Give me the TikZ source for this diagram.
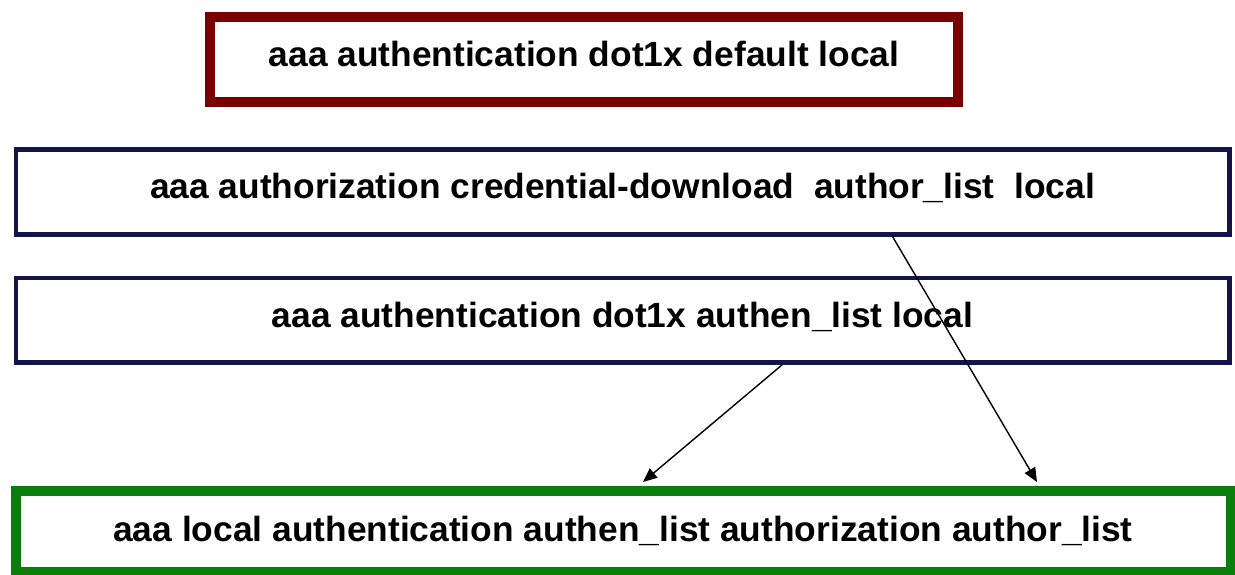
\documentclass[tikz,border=0pt]{standalone}
\usepackage{fontspec}
\setmainfont{Liberation Sans}[FakeStretch=1.01]
\usetikzlibrary{arrows.meta}
\definecolor{boxred}{HTML}{7A0000}
\definecolor{boxblue}{HTML}{14144B}
\definecolor{boxgreen}{HTML}{0B7D0B}
\tikzset{
  cmdbox/.style={draw, fill=white, inner sep=0pt, align=center,
    font=\fontsize{35}{40}\selectfont\bfseries, text height=22pt, text depth=8pt},
  link/.style={draw=black, line width=1.4pt, -{Triangle[length=14pt,width=12pt]}}
}
\begin{document}
\begin{tikzpicture}[x=1pt,y=-1pt]
\useasboundingbox (0,0) rectangle (1235,575);
\node[cmdbox, draw=boxred, line width=10pt, minimum width=748pt, minimum height=85pt] (r) at (584,59.5) {aaa authentication dot1x default local};
\node[cmdbox, draw=boxblue, line width=4.5pt, minimum width=1213.5pt, minimum height=84.5pt] (b1) at (622.5,192) {aaa authorization credential-download\ \ author\_list\ \ local};
\node[cmdbox, draw=boxblue, line width=4.5pt, minimum width=1213.5pt, minimum height=84.5pt] (b2) at (622.5,320) {aaa authentication dot1x authen\_list local};
\node[cmdbox, text height=24pt, text depth=5pt, draw=boxgreen, line width=10pt, minimum width=1215pt, minimum height=81pt] (g) at (623,531.5) {aaa local authentication authen\_list authorization author\_list};
\draw[link] ([xshift=160pt]b2.south) -- ([xshift=20pt,yshift=4pt]g.north);
\draw[link] ([xshift=270pt]b1.south) -- ([xshift=414pt,yshift=4pt]g.north);
\end{tikzpicture}
\end{document}
